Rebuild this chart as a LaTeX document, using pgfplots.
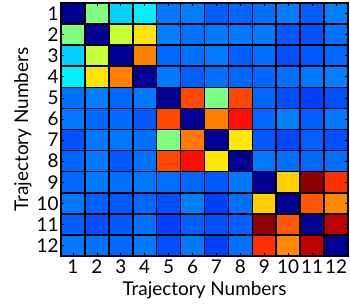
\documentclass[border=0pt]{standalone}
\usepackage{pgfplots}
\pgfplotsset{compat=1.18}
\usepackage{pgfplotstable}
\usepackage{fontspec}
\setmainfont{Lato}
\pgfplotstableread{
x y c
1 1 0.02
2 1 0.50
3 1 0.33
4 1 0.36
5 1 0.243
6 1 0.250
7 1 0.219
8 1 0.227
9 1 0.235
10 1 0.250
11 1 0.219
12 1 0.250
1 2 0.50
2 2 0.02
3 2 0.57
4 2 0.65
5 2 0.250
6 2 0.235
7 2 0.243
8 2 0.243
9 2 0.243
10 2 0.211
11 2 0.203
12 2 0.235
1 3 0.33
2 3 0.57
3 3 0.02
4 3 0.75
5 3 0.227
6 3 0.235
7 3 0.245
8 3 0.219
9 3 0.235
10 3 0.203
11 3 0.211
12 3 0.227
1 4 0.36
2 4 0.65
3 4 0.75
4 4 0.02
5 4 0.243
6 4 0.219
7 4 0.235
8 4 0.227
9 4 0.227
10 4 0.235
11 4 0.243
12 4 0.250
1 5 0.235
2 5 0.250
3 5 0.227
4 5 0.243
5 5 0.02
6 5 0.805
7 5 0.50
8 5 0.805
9 5 0.227
10 5 0.203
11 5 0.188
12 5 0.203
1 6 0.243
2 6 0.227
3 6 0.230
4 6 0.211
5 6 0.805
6 6 0.02
7 6 0.75
8 6 0.86
9 6 0.227
10 6 0.250
11 6 0.219
12 6 0.243
1 7 0.207
2 7 0.243
3 7 0.243
4 7 0.235
5 7 0.50
6 7 0.757
7 7 0.02
8 7 0.648
9 7 0.211
10 7 0.196
11 7 0.219
12 7 0.203
1 8 0.227
2 8 0.243
3 8 0.211
4 8 0.235
5 8 0.805
6 8 0.86
7 8 0.648
8 8 0.02
9 8 0.243
10 8 0.235
11 8 0.227
12 8 0.235
1 9 0.227
2 9 0.243
3 9 0.235
4 9 0.243
5 9 0.235
6 9 0.227
7 9 0.211
8 9 0.243
9 9 0.02
10 9 0.671
11 9 0.984
12 9 0.828
1 10 0.243
2 10 0.219
3 10 0.211
4 10 0.227
5 10 0.203
6 10 0.250
7 10 0.188
8 10 0.235
9 10 0.671
10 10 0.02
11 10 0.789
12 10 0.742
1 11 0.219
2 11 0.203
3 11 0.211
4 11 0.235
5 11 0.188
6 11 0.219
7 11 0.203
8 11 0.219
9 11 0.984
10 11 0.789
11 11 0.02
12 11 0.9375
1 12 0.243
2 12 0.235
3 12 0.227
4 12 0.243
5 12 0.203
6 12 0.243
7 12 0.188
8 12 0.235
9 12 0.828
10 12 0.742
11 12 0.9375
12 12 0.02
}\datatable
\begin{document}
\begin{tikzpicture}
\begin{axis}[
  name=ax,
  at={(0,0)}, anchor=south west,
  scale only axis,
  width=287bp, height=253bp,
  xmin=0.5, xmax=12.5, ymin=0.5, ymax=12.5,
  y dir=reverse,
  colormap/jet,
  point meta min=0, point meta max=1,
  xtick={1,...,12}, ytick={1,...,12},
  minor xtick={1.5,2.5,...,11.5},
  minor ytick={1.5,2.5,...,11.5},
  xminorgrids=true, yminorgrids=true,
  minor grid style={black, line width=1.6bp},
  minor tick length=0pt,
  major tick length=3bp,
  tick align=inside,
  tick style={black, line width=0.6bp},
  axis line style={black, line width=1.8bp},
  axis on top,
  /pgf/number format/assume math mode=true,
  tick label style={font=\fontsize{19}{21}\selectfont},
  label style={font=\fontsize{19}{21}\selectfont},
  xticklabel style={yshift=0bp},
  yticklabel style={xshift=1bp},
  xlabel={Trajectory Numbers},
  ylabel={Trajectory Numbers},
  xlabel style={yshift=-1bp},
  ylabel style={yshift=-2bp},
]
\addplot[matrix plot*, mesh/cols=12, point meta=explicit] table[x=x, y=y, meta=c] {\datatable};
\end{axis}
\pgfresetboundingbox
\path[use as bounding box] (-61bp,-52bp) rectangle (289bp,256bp);
\end{tikzpicture}
\end{document}
